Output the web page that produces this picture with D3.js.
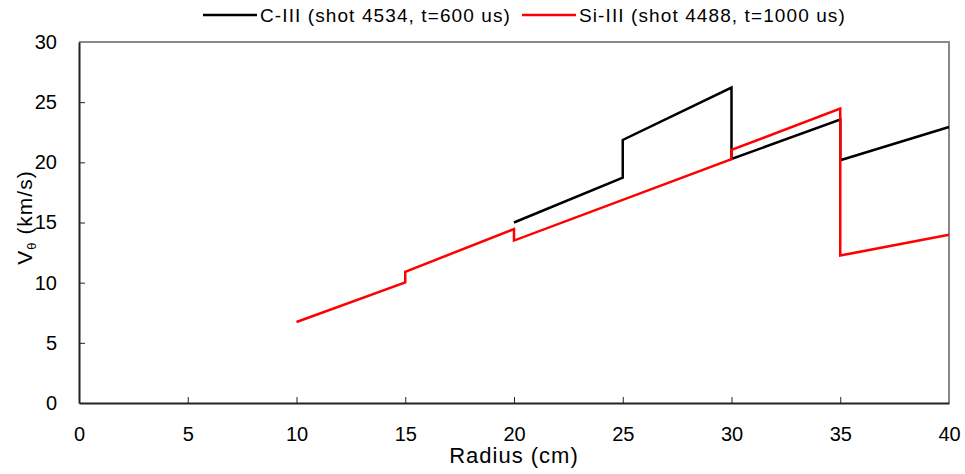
<!DOCTYPE html>
<html>
<head>
	<meta charset="utf-8">
	<title>V-theta vs radius</title>
	<script src="https://d3js.org/d3.v7.min.js"></script>
	<style>
		body { margin: 0; background: #fff; }
		text { font-family: "Liberation Sans", Arial, sans-serif; fill: #000; }
	</style>
</head>
<body>
	<div class="chart"></div>

	<script type="text/javascript">
		// data: each series is radius (cm) / V_theta (km/s)
		// repeated radius values give the vertical steps
		const cRadius = [20, 25, 25, 30, 30, 35, 35, 40]
		const cVel = [15.0, 18.73, 21.86, 26.21, 20.28, 23.55, 20.17, 22.94]

		const siRadius = [10, 15, 15, 20, 20, 30, 30, 35, 35, 40]
		const siVel = [6.73, 10.03, 10.9, 14.46, 13.5, 20.26, 21.03, 24.47, 12.25, 13.99]

		const seriesNames = ['C-III (shot 4534, t=600 us)', 'Si-III (shot 4488, t=1000 us)']
		const xTicks = [0, 5, 10, 15, 20, 25, 30, 35, 40]
		const yTicks = [0, 5, 10, 15, 20, 25, 30]

		const width = 965
		const height = 474
		const margin = { top: 42, right: 16, bottom: 71, left: 79 }

		const svg = d3.select('.chart').append('svg')
			.attr('width', width)
			.attr('height', height)

		const x = d3.scaleLinear([0, 40], [margin.left, width - margin.right])
		const y = d3.scaleLinear([0, 30], [height - margin.bottom, margin.top])

		const series = [
			{ name: seriesNames[0], color: '#000000', values: cRadius.map((r, i) => [r, cVel[i]]) },
			{ name: seriesNames[1], color: '#ff0000', values: siRadius.map((r, i) => [r, siVel[i]]) }
		]

		// frame: top and right in grey
		svg.append('path')
			.attr('d', `M${x(0)},${y(30)}H${x(40)}V${y(0)}`)
			.attr('fill', 'none')
			.attr('stroke', '#888')
			.attr('stroke-width', 2)

		// x axis, ticks pointing inward
		const gx = svg.append('g')
			.attr('transform', `translate(0, ${y(0)})`)
			.call(d3.axisBottom(x).tickValues(xTicks).tickSizeInner(-6).tickSizeOuter(0).tickPadding(24))
		gx.select('.domain').attr('stroke', '#222').attr('stroke-width', 2)
		gx.selectAll('.tick line').attr('stroke', '#222').attr('stroke-width', 1)
			.filter(d => d === 0 || d === 40).remove()
		gx.selectAll('.tick text').attr('font-size', 20).attr('font-family', 'Liberation Sans, Arial, sans-serif')

		// y axis
		const gy = svg.append('g')
			.attr('transform', `translate(${x(0)}, 0)`)
			.call(d3.axisLeft(y).tickValues(yTicks).tickSizeInner(-6).tickSizeOuter(0).tickPadding(22))
		gy.select('.domain').attr('stroke', '#222').attr('stroke-width', 2)
		gy.selectAll('.tick line').attr('stroke', '#222').attr('stroke-width', 1)
			.filter(d => d === 0 || d === 30).remove()
		gy.selectAll('.tick text').attr('font-size', 20).attr('font-family', 'Liberation Sans, Arial, sans-serif')

		// axis titles
		svg.append('text')
			.attr('x', (x(0) + x(40)) / 2)
			.attr('y', 463)
			.attr('text-anchor', 'middle')
			.attr('font-size', 22)
			.attr('letter-spacing', 1)
			.text('Radius (cm)')

		const yTitle = svg.append('text')
			.attr('transform', `translate(32, ${(y(0) + y(30)) / 2 - 5}) rotate(-90)`)
			.attr('text-anchor', 'middle')
			.attr('font-size', 21)
			.attr('letter-spacing', 1)
		yTitle.append('tspan').text('V')
		yTitle.append('tspan').attr('font-size', 13).attr('dy', 4).text('θ')
		yTitle.append('tspan').attr('dy', -4).text(' (km/s)')

		// lines
		const line = d3.line()
			.x(d => x(d[0]))
			.y(d => y(d[1]))

		svg.append('g')
			.selectAll('path')
			.data(series)
			.join('path')
			.attr('d', d => line(d.values))
			.attr('fill', 'none')
			.attr('stroke', d => d.color)
			.attr('stroke-width', 2.5)
			.attr('stroke-linejoin', 'miter')

		// legend
		const legendX = [203, 522]
		const legend = svg.append('g')
			.selectAll('g')
			.data(series)
			.join('g')
			.attr('transform', (d, i) => `translate(${legendX[i]}, 15)`)
		legend.append('line')
			.attr('x1', 0).attr('x2', 54)
			.attr('stroke', d => d.color)
			.attr('stroke-width', 2.5)
		legend.append('text')
			.attr('x', 57)
			.attr('dy', '0.35em')
			.attr('font-size', 19)
			.attr('letter-spacing', 1.1)
			.text(d => d.name)
	</script>
</body>
</html>
